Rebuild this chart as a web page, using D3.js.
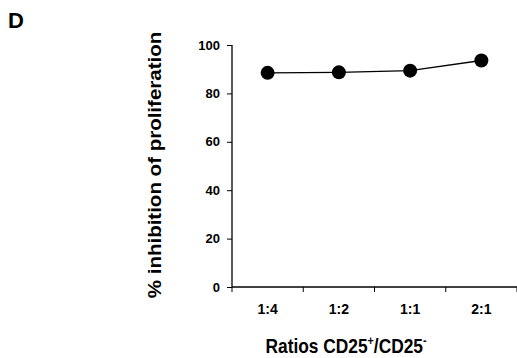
<!DOCTYPE html>
<html>
<head>
<meta charset="utf-8">
<script src="https://cdn.jsdelivr.net/npm/d3@7"></script>
<style>
  body { margin: 0; background: #fff; }
  text { font-family: "Liberation Sans", Arial, sans-serif; font-weight: bold; fill: #000; }
</style>
</head>
<body>
<svg id="chart" width="517" height="358"></svg>
<script>
const categories = ['1:4', '1:2', '1:1', '2:1'];
const values = [88.5, 88.7, 89.4, 93.6];
const yTicks = [0, 20, 40, 60, 80, 100];

const svg = d3.select('#chart'),
  margin = {left: 232, top: 45, right: 0, bottom: 71},
  width = +svg.attr('width') - margin.left - margin.right,
  height = +svg.attr('height') - margin.top - margin.bottom;

const g = svg.append('g').attr('transform', 'translate(' + margin.left + ',' + margin.top + ')');

const x = d3.scaleBand().domain(categories).range([0, width]);
const y = d3.scaleLinear().domain([0, 100]).range([height, 0]);

// y axis
const yAxis = g.append('g')
  .call(d3.axisLeft(y).tickValues(yTicks).tickSize(5).tickPadding(7));
yAxis.select('.domain').attr('d', 'M0,' + y(100) + 'V' + y(0)).attr('stroke-width', 1.3);
yAxis.selectAll('text').style('font-size', '13px');

// x axis, ticks on band boundaries
const xAxis = g.append('g').attr('transform', 'translate(0,' + height + ')');
xAxis.append('line').attr('x1', 0).attr('x2', width).attr('stroke', '#000').attr('stroke-width', 1.3);
const bounds = categories.map(c => x(c)).concat([x.range()[1]]);
xAxis.selectAll('.tick').data(bounds).enter().append('line')
  .attr('x1', d => d).attr('x2', d => d).attr('y1', 0).attr('y2', 5)
  .attr('stroke', '#000');
xAxis.selectAll('.lbl').data(categories).enter().append('text')
  .attr('x', d => x(d) + x.bandwidth() / 2)
  .attr('y', 27)
  .attr('text-anchor', 'middle')
  .style('font-size', '14px')
  .text(d => d);

// line and points
const cx = (d, i) => x(categories[i]) + x.bandwidth() / 2;
g.append('path')
  .datum(values)
  .attr('fill', 'none')
  .attr('stroke', '#000')
  .attr('stroke-width', 1.3)
  .attr('d', d3.line().x(cx).y(d => y(d)));
g.selectAll('.pt').data(values).enter().append('circle')
  .attr('cx', cx)
  .attr('cy', d => y(d))
  .attr('r', 7)
  .attr('fill', '#000');

// labels
svg.append('text').attr('x', 8).attr('y', 28).style('font-size', '22px').text('D');

svg.append('text')
  .attr('transform', 'translate(161,165) rotate(-90) scale(1.0,0.9)')
  .attr('text-anchor', 'middle')
  .style('font-size', '20.5px')
  .text('% inhibition of proliferation');

const xl = svg.append('text')
  .attr('transform', 'translate(346,353) scale(0.89,1)')
  .attr('text-anchor', 'middle')
  .style('font-size', '19.5px');
xl.append('tspan').text('Ratios CD25');
xl.append('tspan').attr('dy', -8).style('font-size', '12px').text('+');
xl.append('tspan').attr('dy', 8).text('/CD25');
xl.append('tspan').attr('dy', -8).style('font-size', '12px').text('-');
</script>
</body>
</html>
